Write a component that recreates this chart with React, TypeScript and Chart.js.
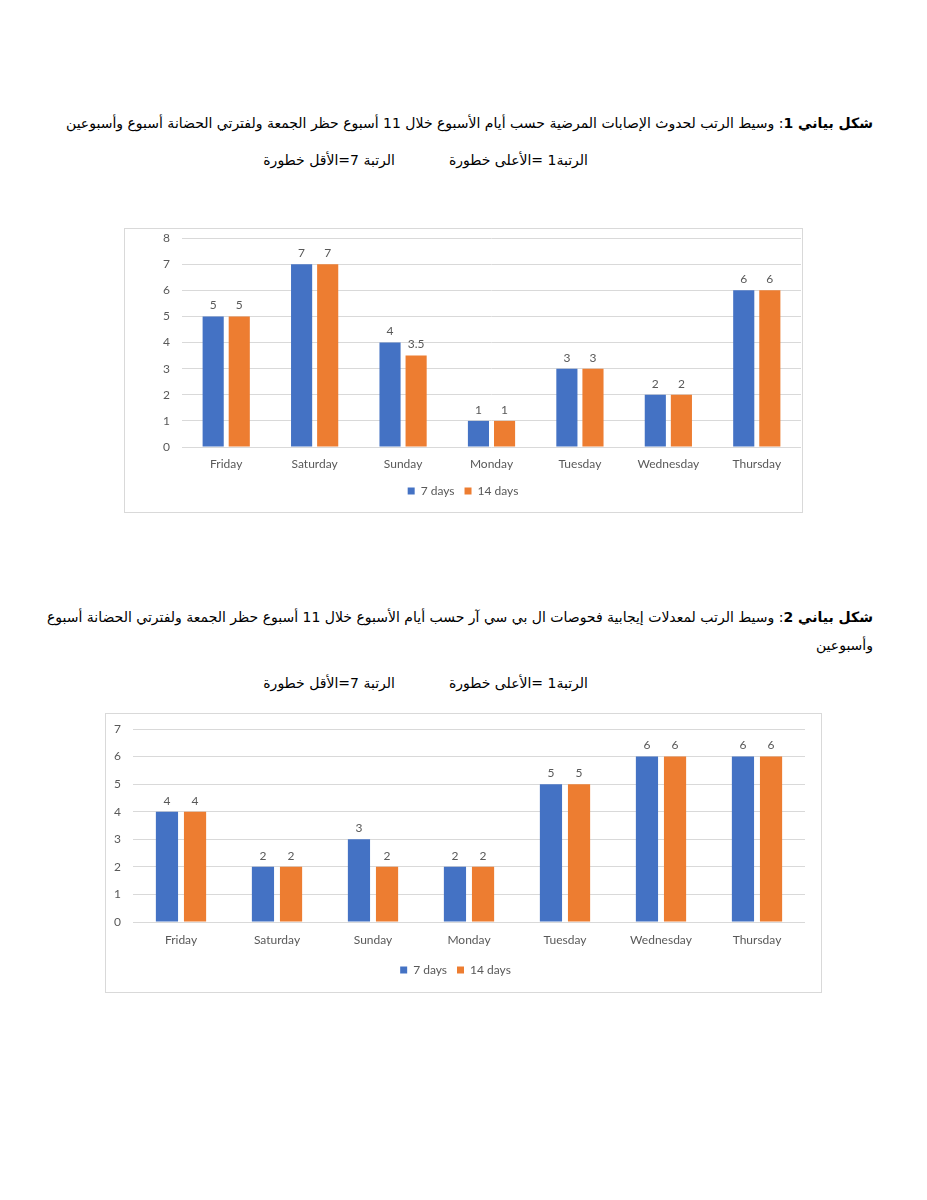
import React, { useEffect, useRef } from "react";
import { Chart, registerables } from "chart.js";

Chart.register(...registerables);

const days = ["Friday", "Saturday", "Sunday", "Monday", "Tuesday", "Wednesday", "Thursday"];
const seriesLabels = ["7 days", "14 days"];
const seriesColors = ["#4472C4", "#ED7D31"];

const chart1Days7 = [5, 7, 4, 1, 3, 2, 6];
const chart1Days14 = [5, 7, 3.5, 1, 3, 2, 6];
const chart1Max = 8;

const chart2Days7 = [4, 2, 3, 2, 5, 6, 6];
const chart2Days14 = [4, 2, 2, 2, 5, 6, 6];
const chart2Max = 7;

const caption1 =
  "وسيط الرتب لحدوث الإصابات المرضية حسب أيام الأسبوع خلال 11 أسبوع حظر الجمعة ولفترتي الحضانة أسبوع وأسبوعين";
const caption2a =
  "وسيط الرتب لمعدلات إيجابية فحوصات ال بي سي آر حسب أيام الأسبوع خلال 11 أسبوع حظر الجمعة ولفترتي الحضانة أسبوع";
const caption2b = "وأسبوعين";
const rankHigh = "الرتبة1 =الأعلى خطورة";
const rankLow = "الرتبة 7=الأقل خطورة";

const TEXT_GRAY = "#595959";
const GRID = "#d9d9d9";
const FONT = "Lato, 'Open Sans', sans-serif";

const valueLabels = {
  id: "valueLabels",
  afterDatasetsDraw(chart: any) {
    const ctx = chart.ctx;
    ctx.save();
    ctx.font = `12px ${FONT}`;
    ctx.fillStyle = TEXT_GRAY;
    ctx.textAlign = "center";
    ctx.textBaseline = "bottom";
    chart.data.datasets.forEach((ds: any, i: number) => {
      const meta = chart.getDatasetMeta(i);
      meta.data.forEach((bar: any, j: number) => {
        ctx.fillText(String(ds.data[j]), bar.x, bar.y - 5);
      });
    });
    ctx.restore();
  },
};

type Cfg = {
  a: number[];
  b: number[];
  max: number;
  yWidth: number;
  xHeight: number;
  xPad: number;
  pad: { top: number; right: number; bottom: number; left: number };
  catPct: number;
  barPct: number;
};

function BarChart({ cfg, width, height }: { cfg: Cfg; width: number; height: number }) {
  const ref = useRef<HTMLCanvasElement | null>(null);
  useEffect(() => {
    if (!ref.current) return;
    const chart = new Chart(ref.current, {
      type: "bar",
      data: {
        labels: days,
        datasets: [
          {
            label: seriesLabels[0],
            data: cfg.a,
            backgroundColor: seriesColors[0],
            categoryPercentage: cfg.catPct,
            barPercentage: cfg.barPct,
          },
          {
            label: seriesLabels[1],
            data: cfg.b,
            backgroundColor: seriesColors[1],
            categoryPercentage: cfg.catPct,
            barPercentage: cfg.barPct,
          },
        ],
      },
      options: {
        responsive: false,
        animation: false,
        layout: { padding: cfg.pad },
        scales: {
          x: {
            grid: { display: false, drawTicks: false },
            border: { display: false },
            ticks: { color: TEXT_GRAY, font: { family: FONT, size: 12 }, padding: cfg.xPad },
            afterFit: (s: any) => {
              s.height = cfg.xHeight;
            },
          },
          y: {
            min: 0,
            max: cfg.max,
            grid: {
              color: GRID,
              lineWidth: 1,
              drawTicks: true,
              tickLength: 12,
              tickColor: "rgba(0,0,0,0)",
            },
            border: { display: false },
            ticks: { stepSize: 1, color: TEXT_GRAY, font: { family: FONT, size: 12 }, padding: 0 },
            afterFit: (s: any) => {
              s.width = cfg.yWidth;
            },
          },
        },
        plugins: {
          legend: {
            position: "bottom",
            labels: {
              boxWidth: 7,
              boxHeight: 7,
              color: TEXT_GRAY,
              font: { family: FONT, size: 12 },
              padding: 10,
            },
          },
          tooltip: { enabled: false },
        },
      },
      plugins: [valueLabels],
    } as any);
    return () => chart.destroy();
  }, []);
  return <canvas ref={ref} width={width} height={height} style={{ display: "block", width, height }} />;
}

const captionStyle: React.CSSProperties = {
  position: "absolute",
  direction: "rtl",
  textAlign: "right",
  whiteSpace: "nowrap",
  fontFamily: "'DejaVu Sans', sans-serif",
  fontSize: 14,
  lineHeight: "20px",
  color: "#000",
};

export default function App() {
  const cfg1: Cfg = {
    a: chart1Days7,
    b: chart1Days14,
    max: chart1Max,
    yWidth: 57,
    xHeight: 28,
    xPad: 10,
    pad: { top: 9, right: 1, bottom: 5, left: 0 },
    catPct: 0.59,
    barPct: 0.81,
  };
  const cfg2: Cfg = {
    a: chart2Days7,
    b: chart2Days14,
    max: chart2Max,
    yWidth: 27,
    xHeight: 32,
    xPad: 11,
    pad: { top: 15, right: 16, bottom: 6, left: 0 },
    catPct: 0.585,
    barPct: 0.79,
  };
  return (
    <div style={{ position: "absolute", left: 0, top: 0, width: 927, height: 1200, background: "#fff" }}>
      <div style={{ ...captionStyle, right: 927 - 873, top: 113 }}>
        <b>شكل بياني 1</b>: {caption1}
      </div>
      <div style={{ ...captionStyle, right: 927 - 588, top: 150 }}>{rankHigh}</div>
      <div style={{ ...captionStyle, right: 927 - 395, top: 150 }}>{rankLow}</div>

      <div
        style={{
          position: "absolute",
          left: 124,
          top: 228,
          width: 677,
          height: 283,
          border: `1px solid ${GRID}`,
        }}
      >
        <BarChart cfg={cfg1} width={677} height={283} />
      </div>

      <div style={{ ...captionStyle, right: 927 - 873, top: 603, lineHeight: "28px" }}>
        <b>شكل بياني 2</b>: {caption2a}
        <br />
        {caption2b}
      </div>
      <div style={{ ...captionStyle, right: 927 - 588, top: 673 }}>{rankHigh}</div>
      <div style={{ ...captionStyle, right: 927 - 395, top: 673 }}>{rankLow}</div>

      <div
        style={{
          position: "absolute",
          left: 105,
          top: 713,
          width: 715,
          height: 278,
          border: `1px solid ${GRID}`,
        }}
      >
        <BarChart cfg={cfg2} width={715} height={278} />
      </div>
    </div>
  );
}
